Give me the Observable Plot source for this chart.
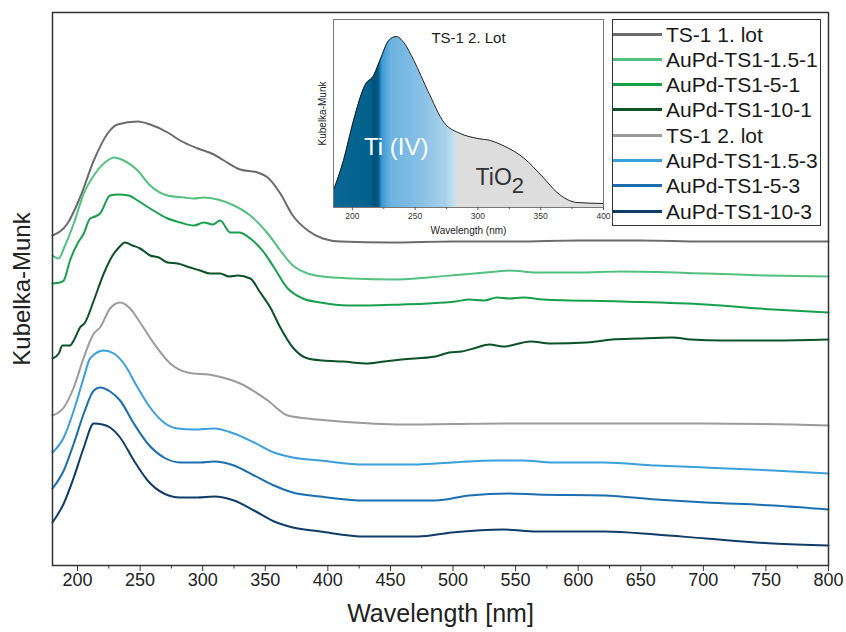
<!DOCTYPE html>
<html><head><meta charset="utf-8">
<script src="https://cdn.jsdelivr.net/npm/d3@7"></script>
<script src="https://cdn.jsdelivr.net/npm/@observablehq/plot@0.6"></script>
<style>
body{margin:0;background:#fff;font-family:"Liberation Sans",Arial,sans-serif;}
#wrap{position:relative;width:846px;height:632px;overflow:hidden;}
#main{position:absolute;left:0;top:0;}
#inset{position:absolute;left:300px;top:12px;}
#legend{position:absolute;left:612px;top:19px;width:207px;height:205px;border:1.3px solid #333;background:#fff;}
.row{position:absolute;left:0;height:25px;display:flex;align-items:center;}
.sw{width:49px;height:3px;margin-left:0;margin-right:4px;}
.lab{font-size:21px;color:#1a1a1a;white-space:nowrap;line-height:25px;}
</style></head>
<body><div id="wrap"><div id="main"></div><div id="inset"></div><div id="legend"></div></div>
<script>
// ---------- data (wavelength nm, Kubelka-Munk a.u. incl. stacking offset) ----------
const seriesNames = ["TS-1 1. lot","AuPd-TS1-1.5-1","AuPd-TS1-5-1","AuPd-TS1-10-1","TS-1 2. lot","AuPd-TS1-1.5-3","AuPd-TS1-5-3","AuPd-TS1-10-3"];
const seriesColors = ["#6b6b6b","#52c07f","#17a04c","#0b5228","#9b9b9b","#3aa0dc","#1b6fb0","#0f3d68"];

const ts1Lot1 = [[180,33.0],[192,34.2],[202,36.8],[213,40.5],[224,43.2],[232,44.1],[248,44.4],[258,44.1],[272,43.3],[282,42.5],[296,41.7],[309,41.1],[317,40.5],[330,39.6],[344,39.3],[352,38.8],[362,37.2],[372,35.0],[384,33.5],[396,32.7],[410,32.4],[450,32.3],[500,32.4],[550,32.4],[600,32.5],[650,32.5],[700,32.4],[750,32.4],[800,32.4]];
const auPd15_1 = [[180,31.0],[185,30.7],[189,31.7],[197,34.2],[205,37.2],[213,39.0],[224,40.5],[229,40.8],[237,40.5],[248,39.5],[258,38.0],[272,37.0],[285,36.8],[293,36.7],[301,36.8],[312,36.6],[325,36.0],[338,35.0],[352,33.2],[362,31.5],[372,30.0],[384,29.2],[396,28.9],[420,28.7],[451,28.6],[480,28.8],[507,29.1],[535,29.4],[545,29.5],[556,29.4],[567,29.3],[600,29.3],[634,29.4],[702,29.2],[750,29.0],[800,28.9]];
const auPd5_1 = [[180,28.2],[186,28.3],[189,28.5],[194,30.5],[200,32.2],[205,33.2],[210,34.7],[214,34.9],[218,35.2],[226,37.0],[232,37.1],[241,37.0],[248,36.5],[258,35.7],[272,34.7],[282,34.3],[293,34.0],[301,34.3],[308,34.1],[314,34.5],[322,33.3],[329,33.3],[338,32.7],[349,31.3],[357,29.8],[368,27.7],[380,26.7],[394,26.3],[416,26.0],[432,26.0],[459,26.1],[480,26.2],[502,26.4],[513,26.6],[525,26.5],[535,26.8],[545,26.7],[556,26.8],[572,26.6],[634,26.4],[702,26.1],[756,25.6],[800,25.3]];
const auPd10_1 = [[180,20.7],[185,21.2],[188,22.0],[194,22.0],[197,22.5],[202,23.8],[206,24.3],[213,26.5],[221,29.2],[228,31.0],[233,31.8],[238,32.3],[244,32.0],[250,31.7],[258,31.0],[265,30.8],[272,30.3],[280,30.2],[290,29.8],[298,29.5],[306,29.2],[314,29.2],[321,28.9],[328,29.0],[338,28.7],[346,27.3],[354,25.8],[362,23.8],[372,21.8],[384,20.7],[396,20.5],[412,20.4],[432,20.2],[445,20.4],[459,20.6],[486,20.9],[497,21.3],[507,21.4],[519,21.8],[529,22.1],[540,21.9],[562,22.4],[578,22.2],[607,22.3],[627,22.6],[648,22.7],[675,22.8],[690,22.6],[715,22.5],[756,22.5],[800,22.6]];
const ts1Lot2 = [[180,15.0],[189,15.8],[197,17.8],[205,20.8],[213,23.2],[218,23.8],[226,25.7],[234,26.3],[242,25.7],[250,24.3],[261,22.2],[274,20.2],[288,19.3],[309,19.0],[330,18.2],[352,16.5],[368,15.0],[384,14.7],[410,14.4],[459,14.1],[540,14.2],[621,14.2],[702,14.2],[800,14.0]];
const auPd15_3 = [[180,11.3],[189,12.8],[197,15.5],[205,18.8],[210,20.7],[221,21.5],[229,21.2],[237,20.2],[248,17.8],[258,15.8],[269,14.3],[280,13.7],[293,13.6],[309,13.7],[325,13.2],[341,12.3],[357,11.3],[372,10.8],[394,10.5],[430,10.1],[472,10.1],[499,10.3],[535,10.5],[556,10.5],[580,10.3],[621,10.3],[662,10.0],[702,9.8],[756,9.5],[800,9.2]];
const auPd5_3 = [[180,7.7],[189,9.5],[197,12.2],[205,15.2],[213,17.5],[218,17.8],[226,17.4],[234,16.5],[245,14.2],[256,12.2],[269,10.8],[282,10.3],[298,10.3],[309,10.4],[325,10.0],[341,9.0],[357,8.0],[372,7.3],[394,6.9],[430,6.5],[486,6.5],[513,7.0],[545,7.2],[567,7.1],[621,7.0],[662,6.6],[702,6.3],[756,6.0],[800,5.6]];
const auPd10_3 = [[180,4.3],[189,6.2],[197,8.8],[205,11.8],[213,14.2],[220,14.1],[226,13.8],[234,12.8],[245,10.5],[256,8.5],[269,7.2],[282,6.8],[296,6.8],[309,6.9],[325,6.5],[341,5.5],[357,4.4],[372,3.8],[394,3.4],[430,2.9],[472,2.9],[499,3.3],[540,3.6],[567,3.4],[621,3.4],[662,3.1],[702,2.7],[756,2.2],[800,2.0]];
const seriesData = [ts1Lot1, auPd15_1, auPd5_1, auPd10_1, ts1Lot2, auPd15_3, auPd5_3, auPd10_3];

const xTicks = [200,250,300,350,400,450,500,550,600,650,700,750,800];
const xMinorTicks = [225,275,325,375,425,475,525,575,625,675,725,775];
const xTitle = "Wavelength [nm]";
const yTitle = "Kubelka-Munk";

// inset: TS-1 2. Lot
const insetTitle = "TS-1 2. Lot";
const insetSpectrum = [[185,17],[193,47],[201,87],[210,122],[217,132],[222,147],[229,167],[235,171],[241,165],[249,147],[260,117],[273,85],[286,74],[300,69],[310,67],[320,62],[336,50],[352,30],[363,15],[379,5],[400,4]];
const insetTicks = [200,250,300,350,400];
const insetMinorTicks = [225,275,325,375];
const gradStops = [[185,"#0a6894"],[214,"#03628c"],[218,"#00507a"],[221,"#005a85"],[224,"#3d9bd4"],[231,"#6cb3e0"],[255,"#88c0e6"],[274,"#a8d0ec"],[281,"#c4dff1"],[283.5,"#dddddd"],[400,"#dddddd"]];
const insetLabels = [{t:"Ti (IV)", x:235, y:60, fill:"#ffffff", size:24}];

// ---------- main chart ----------
const rows = seriesData.flatMap((arr, i) => arr.map(([wl, km]) => ({series: seriesNames[i], wl, km})));
const font = "Liberation Sans, Arial, sans-serif";

const main = Plot.plot({
  width: 846, height: 632,
  marginLeft: 52, marginRight: 18, marginTop: 12, marginBottom: 67,
  style: {fontFamily: font, color: "#222", background: "transparent"},
  x: {domain: [180, 800]},
  y: {domain: [0, 55.3], axis: null},
  color: {domain: seriesNames, range: seriesColors},
  marks: [
    Plot.lineY(rows, {x: "wl", y: "km", stroke: "series", strokeWidth: 2, curve: "monotone-x"}),
    Plot.axisX({ticks: xTicks, tickSize: 6, tickPadding: 2, fontSize: 18, label: null, stroke: "#333"}),
    Plot.axisX({ticks: xMinorTicks, tickSize: 3.5, text: null, label: null, stroke: "#333"}),
    Plot.frame({stroke: "#333", strokeWidth: 1.5}),
    Plot.text([xTitle], {frameAnchor: "bottom", dy: 56, fontSize: 25, text: d => d, fill: "#222"}),
    Plot.text([yTitle], {frameAnchor: "left", dx: -30, rotate: -90, textAnchor: "middle", fontSize: 24, text: d => d, fill: "#222"})
  ]
});
document.getElementById("main").appendChild(main);

// ---------- inset ----------
function gradientDefs() {
  const defs = d3.create("svg:defs");
  const g = defs.append("linearGradient").attr("id", "tiGrad")
    .attr("x1", 0).attr("x2", 1).attr("y1", 0).attr("y2", 0);
  for (const [nm, c] of gradStops)
    g.append("stop").attr("offset", (nm - 185) / (400 - 185)).attr("stop-color", c);
  return defs.node();
}
const inset = Plot.plot({
  width: 310, height: 232,
  marginLeft: 33, marginRight: 7, marginTop: 7, marginBottom: 37,
  style: {fontFamily: font, color: "#333", background: "transparent", overflow: "visible"},
  x: {domain: [185, 400]},
  y: {domain: [0, 188], axis: null},
  marks: [
    gradientDefs,
    Plot.areaY(insetSpectrum, {x: d => d[0], y: d => d[1], fill: "url(#tiGrad)", curve: "monotone-x"}),
    Plot.lineY(insetSpectrum, {x: d => d[0], y: d => d[1], stroke: "#222", strokeWidth: 1, curve: "monotone-x"}),
    Plot.frame({stroke: "#777"}),
    Plot.axisX({ticks: insetTicks, tickSize: 3, tickPadding: 2, fontSize: 8.5, label: null, stroke: "#555"}),
    Plot.axisX({ticks: insetMinorTicks, tickSize: 2, text: null, label: null, stroke: "#555"}),
    Plot.text([insetTitle], {frameAnchor: "top", dy: 13, textAnchor: "middle", fontSize: 15, text: d => d, fill: "#222"}),
    Plot.text(["Wavelength (nm)"], {frameAnchor: "bottom", dy: 26, textAnchor: "middle", fontSize: 10, text: d => d, fill: "#222"}),
    Plot.text(["Kubelka-Munk"], {frameAnchor: "left", dx: -11, rotate: -90, textAnchor: "middle", fontSize: 10, text: d => d, fill: "#222"}),
    Plot.text(insetLabels, {x: "x", y: "y", text: "t", fill: "fill", fontSize: 24}),
    Plot.text(["TiO"], {x: 327, y: 29.5, textAnchor: "end", fontSize: 23, text: d => d, fill: "#333"}),
    Plot.text(["2"], {x: 327, y: 29.5, textAnchor: "start", dy: 8, fontSize: 22, text: d => d, fill: "#333"})
  ]
});
document.getElementById("inset").appendChild(inset);

// ---------- legend ----------
const legend = document.getElementById("legend");
seriesNames.forEach((name, i) => {
  const row = document.createElement("div");
  row.className = "row";
  row.style.top = (1.5 + 25.3 * i) + "px";
  const sw = document.createElement("div");
  sw.className = "sw"; sw.style.background = seriesColors[i];
  const lab = document.createElement("span");
  lab.className = "lab"; lab.textContent = name;
  row.appendChild(sw); row.appendChild(lab);
  legend.appendChild(row);
});
</script></body></html>
